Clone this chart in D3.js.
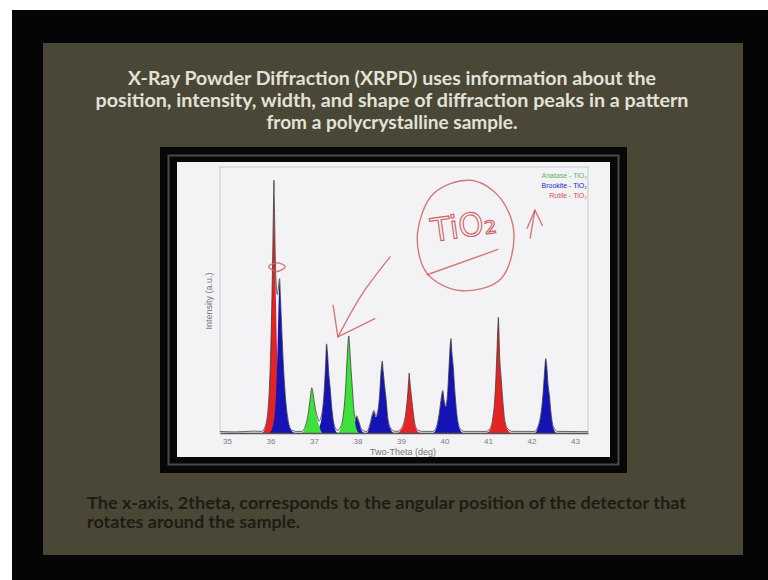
<!DOCTYPE html>
<html>
<head>
<meta charset="utf-8">
<script src="https://cdn.jsdelivr.net/npm/d3@7"></script>
<style>
  body { margin: 0; background: #fff; }
  svg { display: block; }
</style>
</head>
<body>
<div id="chart"></div>
<script>
// slide text
const titleLines = [
  "X-Ray Powder Diffraction (XRPD) uses information about the",
  "position, intensity, width, and shape of diffraction peaks in a pattern",
  "from a polycrystalline sample."
];
const captionLines = [
  "The x-axis, 2theta, corresponds to the angular position of the detector that",
  "rotates around the sample."
];

// chart labels
const xTicks = [35, 36, 37, 38, 39, 40, 41, 42, 43];
const xTitle = "Two-Theta (deg)";
const yTitle = "Intensity (a.u.)";
const phases = ["Anatase", "Brookite", "Rutile"];
const legendLabels = ["Anatase - TiO₂", "Brookite - TiO₂", "Rutile - TiO₂"];

// [2theta, relative intensity]
const rutile = [
  [34.84, 0], [35.8, 0], [35.88, 0.02], [35.95, 0.09], [36.0, 0.27], [36.04, 0.55], [36.07, 0.82],
  [36.08, 0.9], [36.09, 0.82], [36.12, 0.55], [36.16, 0.27], [36.21, 0.09], [36.28, 0.02], [36.36, 0],
  [38.92, 0], [38.99, 0.01], [39.06, 0.03], [39.11, 0.07], [39.15, 0.13], [39.18, 0.2], [39.19, 0.22],
  [39.2, 0.2], [39.23, 0.15], [39.27, 0.09], [39.32, 0.03], [39.39, 0.005], [39.46, 0],
  [40.96, 0], [41.04, 0.01], [41.11, 0.05], [41.16, 0.13], [41.2, 0.27], [41.23, 0.4], [41.24, 0.43],
  [41.25, 0.39], [41.27, 0.28], [41.3, 0.21], [41.34, 0.12], [41.39, 0.04], [41.46, 0.01], [41.54, 0],
  [43.3, 0]
];
const brookite = [
  [34.84, 0], [35.98, 0], [36.06, 0.03], [36.12, 0.12], [36.16, 0.3], [36.19, 0.5], [36.21, 0.57],
  [36.23, 0.5], [36.26, 0.38], [36.3, 0.24], [36.35, 0.12], [36.41, 0.04], [36.48, 0.01], [36.56, 0],
  [37.04, 0], [37.12, 0.02], [37.18, 0.06], [37.23, 0.14], [37.27, 0.26], [37.29, 0.33], [37.31, 0.3],
  [37.34, 0.22], [37.37, 0.17], [37.41, 0.09], [37.46, 0.03], [37.54, 0],
  [37.88, 0], [37.93, 0.03], [37.98, 0.06], [38.03, 0.04], [38.09, 0.01], [38.16, 0],
  [38.22, 0], [38.29, 0.03], [38.35, 0.07], [38.38, 0.08], [38.42, 0.06], [38.47, 0.08], [38.51, 0.14],
  [38.54, 0.22], [38.57, 0.265], [38.59, 0.23], [38.62, 0.18], [38.66, 0.12], [38.7, 0.05], [38.76, 0.015],
  [38.84, 0],
  [39.74, 0], [39.82, 0.02], [39.88, 0.07], [39.93, 0.13], [39.96, 0.155], [39.99, 0.12], [40.03, 0.1],
  [40.07, 0.14], [40.11, 0.26], [40.14, 0.34], [40.15, 0.35], [40.17, 0.3], [40.2, 0.25], [40.24, 0.15],
  [40.29, 0.06], [40.35, 0.015], [40.43, 0],
  [42.08, 0], [42.15, 0.02], [42.21, 0.06], [42.26, 0.13], [42.3, 0.22], [42.33, 0.277], [42.35, 0.25],
  [42.38, 0.18], [42.41, 0.14], [42.45, 0.07], [42.5, 0.02], [42.58, 0], [43.3, 0]
];
const anatase = [
  [34.84, 0], [36.72, 0], [36.8, 0.02], [36.86, 0.06], [36.91, 0.12], [36.95, 0.165], [36.97, 0.155],
  [37.0, 0.12], [37.04, 0.08], [37.08, 0.05], [37.13, 0.02], [37.2, 0],
  [37.54, 0], [37.62, 0.02], [37.68, 0.07], [37.73, 0.17], [37.77, 0.3], [37.8, 0.36], [37.82, 0.32],
  [37.85, 0.24], [37.88, 0.17], [37.92, 0.08], [37.97, 0.02], [38.04, 0], [43.3, 0]
];
// measured pattern (black trace)
const measured = [
  [34.84, 0.006], [35.2, 0.004], [35.6, 0.007], [35.8, 0.006], [35.88, 0.025], [35.95, 0.1], [36.0, 0.28],
  [36.04, 0.56], [36.07, 0.86], [36.08, 0.95], [36.09, 0.86], [36.12, 0.6], [36.16, 0.52], [36.19, 0.56],
  [36.21, 0.58], [36.23, 0.51], [36.26, 0.39], [36.3, 0.25], [36.35, 0.125], [36.41, 0.045], [36.48, 0.012],
  [36.6, 0.006], [36.72, 0.006], [36.8, 0.025], [36.86, 0.065], [36.91, 0.125], [36.95, 0.17], [36.97, 0.16],
  [37.0, 0.125], [37.04, 0.085], [37.08, 0.06], [37.12, 0.045], [37.18, 0.07], [37.23, 0.145], [37.27, 0.265],
  [37.29, 0.335], [37.31, 0.305], [37.34, 0.225], [37.37, 0.175], [37.41, 0.095], [37.46, 0.035], [37.54, 0.01],
  [37.62, 0.025], [37.68, 0.075], [37.73, 0.175], [37.77, 0.305], [37.8, 0.365], [37.82, 0.325], [37.85, 0.245],
  [37.88, 0.175], [37.92, 0.085], [37.96, 0.05], [37.98, 0.065], [38.03, 0.045], [38.09, 0.015], [38.16, 0.007],
  [38.22, 0.006], [38.29, 0.035], [38.35, 0.075], [38.38, 0.085], [38.42, 0.065], [38.47, 0.085], [38.51, 0.145],
  [38.54, 0.225], [38.57, 0.27], [38.59, 0.235], [38.62, 0.185], [38.66, 0.125], [38.7, 0.055], [38.76, 0.02],
  [38.84, 0.007], [38.92, 0.006], [38.99, 0.015], [39.06, 0.035], [39.11, 0.075], [39.15, 0.135], [39.18, 0.205],
  [39.19, 0.225], [39.2, 0.205], [39.23, 0.155], [39.27, 0.095], [39.32, 0.035], [39.39, 0.01], [39.5, 0.006],
  [39.74, 0.006], [39.82, 0.025], [39.88, 0.075], [39.93, 0.135], [39.96, 0.16], [39.99, 0.125], [40.03, 0.105],
  [40.07, 0.145], [40.11, 0.265], [40.14, 0.345], [40.15, 0.355], [40.17, 0.305], [40.2, 0.255], [40.24, 0.155],
  [40.29, 0.065], [40.35, 0.02], [40.45, 0.006], [40.96, 0.006], [41.04, 0.015], [41.11, 0.055], [41.16, 0.135],
  [41.2, 0.275], [41.23, 0.405], [41.24, 0.435], [41.25, 0.395], [41.27, 0.285], [41.3, 0.215], [41.34, 0.125],
  [41.39, 0.045], [41.46, 0.015], [41.56, 0.006], [42.08, 0.006], [42.15, 0.025], [42.21, 0.065], [42.26, 0.135],
  [42.3, 0.225], [42.33, 0.28], [42.35, 0.255], [42.38, 0.185], [42.41, 0.145], [42.45, 0.075], [42.5, 0.025],
  [42.6, 0.006], [43.3, 0.005]
];

// hand-drawn pen marks on the slide, in chart units
const penCircle = [[40.6, 0.95], [41.3, 0.88], [41.6, 0.74], [41.3, 0.58], [40.4, 0.535], [39.6, 0.6], [39.38, 0.75], [39.75, 0.9]];
const penUnderline = [[39.6, 0.595], [41.23, 0.69]];
const penArrow = [[38.75, 0.662], [38.1, 0.52], [37.55, 0.361]];
const penArrowHead = [[37.44, 0.48], [37.55, 0.361], [38.4, 0.43]];
const penSmallArrow = [[41.97, 0.733], [42.08, 0.838]];
const penSmallHead = [[41.9, 0.77], [42.08, 0.838], [42.25, 0.78]];
const penLoop = [[35.96, 0.625], [36.15, 0.64], [36.34, 0.625], [36.15, 0.607]];
const penLabel = { text: "TiO₂", at: [40.45, 0.77] };

const width = 768;
const height = 580;

const svg = d3.select("#chart")
  .append("svg")
    .attr("width", width)
    .attr("height", height);

// black screen + slide
svg.append("rect")
  .attr("x", 12).attr("y", 10)
  .attr("width", width - 12).attr("height", height - 10)
  .attr("fill", "#050506");
svg.append("rect")
  .attr("x", 43).attr("y", 43)
  .attr("width", 700).attr("height", 512)
  .attr("fill", "#4a4737");

svg.append("g")
  .selectAll("text")
  .data(titleLines)
  .join("text")
    .attr("x", 392)
    .attr("y", (d, i) => 80 + i * 22)
    .attr("text-anchor", "middle")
    .attr("dominant-baseline", "middle")
    .attr("textLength", (d, i) => [528, 593, 251][i])
    .attr("lengthAdjust", "spacingAndGlyphs")
    .attr("fill", "#e2e2d8")
    .style("font-family", "Lato, 'Open Sans', sans-serif")
    .style("font-size", "19px")
    .style("font-weight", 700)
    .text(d => d);

svg.append("g")
  .selectAll("text")
  .data(captionLines)
  .join("text")
    .attr("x", 87)
    .attr("y", (d, i) => 505 + i * 19)
    .attr("dominant-baseline", "middle")
    .attr("textLength", (d, i) => [599, 213][i])
    .attr("lengthAdjust", "spacingAndGlyphs")
    .attr("fill", "#1d1c14")
    .style("font-family", "Lato, 'Open Sans', sans-serif")
    .style("font-size", "17px")
    .style("font-weight", 700)
    .text(d => d);

// picture frame
svg.append("rect")
  .attr("x", 160).attr("y", 147)
  .attr("width", 467).attr("height", 326)
  .attr("fill", "#070707");
svg.append("rect")
  .attr("x", 168.5).attr("y", 155.5)
  .attr("width", 450).attr("height", 309)
  .attr("fill", "none")
  .attr("stroke", "#4a4a4a")
  .attr("stroke-width", 2);
svg.append("rect")
  .attr("x", 177).attr("y", 162)
  .attr("width", 433).attr("height", 295)
  .attr("fill", "#f3f3f6");

// chart
const x = d3.scaleLinear().domain([34.84, 43.3]).range([220, 588]);
const y = d3.scaleLinear().domain([0, 1]).range([433, 167]);

const colorScale = d3.scaleOrdinal()
  .domain(phases)
  .range(["#3fe03a", "#1512b6", "#e32424"]);

svg.append("rect")
  .attr("x", x.range()[0]).attr("y", y.range()[1])
  .attr("width", x.range()[1] - x.range()[0])
  .attr("height", y.range()[0] - y.range()[1])
  .attr("fill", "none")
  .attr("stroke", "#c9c9cc")
  .attr("stroke-width", 1);

const areaGenerator = d3.area()
  .x(d => x(d[0]))
  .y0(y(0))
  .y1(d => y(d[1]))
  .curve(d3.curveMonotoneX);

const phaseData = [
  { phase: "Rutile", values: rutile },
  { phase: "Brookite", values: brookite },
  { phase: "Anatase", values: anatase }
];

svg.append("g")
  .selectAll("path")
  .data(phaseData)
  .join("path")
    .attr("d", d => areaGenerator(d.values))
    .attr("fill", d => colorScale(d.phase));

const lineGenerator = d3.line()
  .x(d => x(d[0]))
  .y(d => y(d[1]))
  .curve(d3.curveMonotoneX);

svg.append("path")
  .attr("d", lineGenerator(measured))
  .attr("fill", "none")
  .attr("stroke", "#2a2a2a")
  .attr("stroke-opacity", 0.8)
  .attr("stroke-width", 0.9);

// x axis
const xAxis = svg.append("g")
  .attr("transform", `translate(0, ${y(0)})`)
  .call(d3.axisBottom(x).tickValues(xTicks).tickSize(0).tickPadding(5).tickFormat(d3.format("d")));
xAxis.select(".domain").attr("stroke", "#555").attr("stroke-width", 1.4);
xAxis.selectAll("text")
  .attr("fill", "#7a7a7a")
  .style("font-family", "Arial, 'Liberation Sans', sans-serif")
  .style("font-size", "8px");

svg.append("text")
  .attr("x", 403)
  .attr("y", 453)
  .attr("text-anchor", "middle")
  .attr("dominant-baseline", "middle")
  .attr("fill", "#777")
  .style("font-family", "Arial, 'Liberation Sans', sans-serif")
  .style("font-size", "9px")
  .text(xTitle);

svg.append("text")
  .attr("transform", "translate(210, 301) rotate(-90)")
  .attr("text-anchor", "middle")
  .attr("dominant-baseline", "middle")
  .attr("fill", "#777")
  .style("font-family", "Arial, 'Liberation Sans', sans-serif")
  .style("font-size", "9px")
  .text(yTitle);

// legend
svg.append("g")
  .selectAll("text")
  .data(legendLabels)
  .join("text")
    .attr("x", 587)
    .attr("y", (d, i) => 176 + i * 10)
    .attr("text-anchor", "end")
    .attr("dominant-baseline", "middle")
    .attr("fill", (d, i) => ["#5cb65a", "#2626c4", "#e04a4a"][i])
    .style("font-family", "Arial, 'Liberation Sans', sans-serif")
    .style("font-size", "7px")
    .text(d => d);

// pen annotations
const pen = svg.append("g")
  .attr("fill", "none")
  .attr("stroke", "#cf6262")
  .attr("stroke-opacity", 0.85)
  .attr("stroke-width", 1.4)
  .attr("stroke-linecap", "round")
  .attr("stroke-linejoin", "round");

const penLine = d3.line().x(d => x(d[0])).y(d => y(d[1]));
const penClosed = d3.line().x(d => x(d[0])).y(d => y(d[1])).curve(d3.curveCardinalClosed);
const penCurve = d3.line().x(d => x(d[0])).y(d => y(d[1])).curve(d3.curveNatural);

pen.append("path").attr("d", penClosed(penCircle));
pen.append("path").attr("d", penLine(penUnderline));
pen.append("path").attr("d", penCurve(penArrow));
pen.append("path").attr("d", penLine(penArrowHead));
pen.append("path").attr("d", penLine(penSmallArrow));
pen.append("path").attr("d", penLine(penSmallHead));
pen.append("path").attr("d", penClosed(penLoop));

svg.append("text")
  .attr("x", x(penLabel.at[0]))
  .attr("y", y(penLabel.at[1]))
  .attr("text-anchor", "middle")
  .attr("dominant-baseline", "middle")
  .attr("transform", `rotate(-8, ${x(penLabel.at[0])}, ${y(penLabel.at[1])})`)
  .attr("fill", "none")
  .attr("stroke", "#cf6262")
  .attr("stroke-width", 1.1)
  .style("font-family", "'DejaVu Sans', sans-serif")
  .style("font-size", "32px")
  .text(penLabel.text);
</script>
</body>
</html>
